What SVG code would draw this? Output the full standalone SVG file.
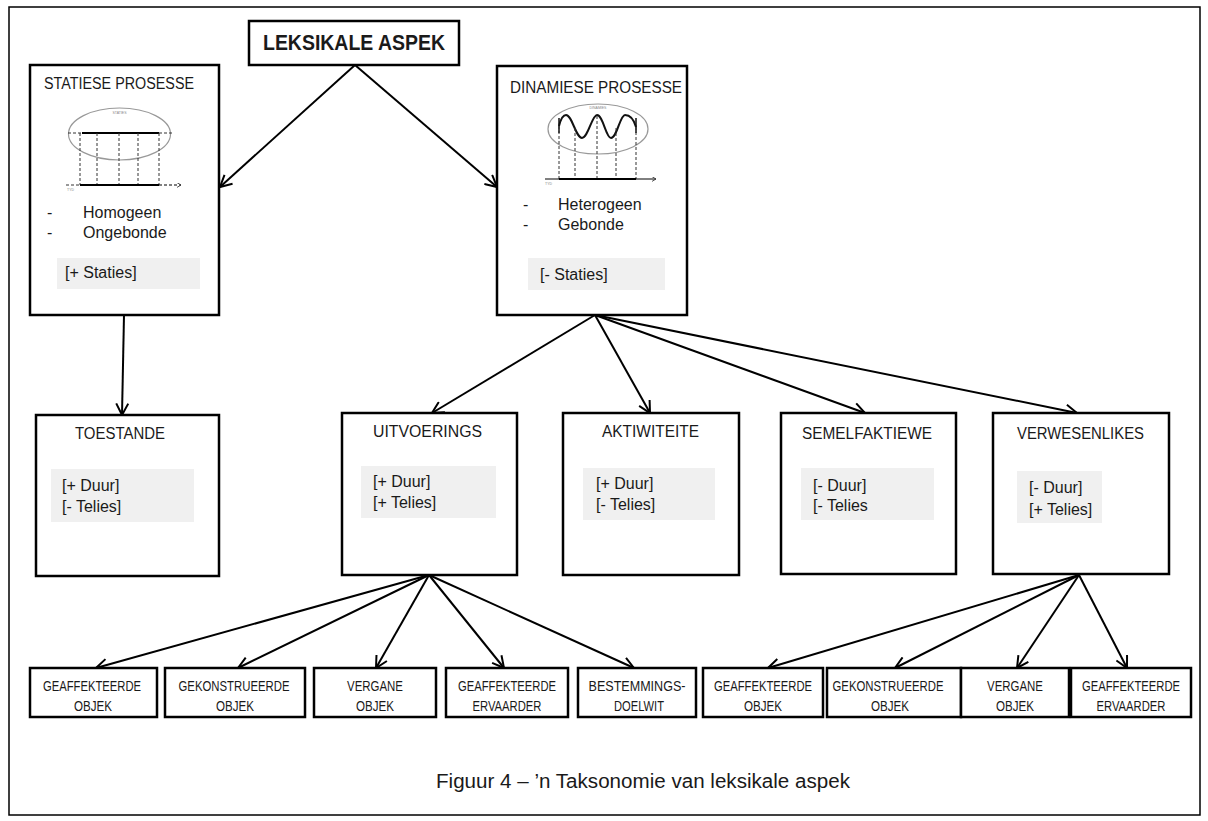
<svg xmlns="http://www.w3.org/2000/svg" width="1208" height="821" viewBox="0 0 1208 821">
<style>
.box{fill:#fff;stroke:#000;stroke-width:2.5}
.feat{fill:#f0f0f0;stroke:none}
.t{font-family:"Liberation Sans",Arial,sans-serif;fill:#1a1a1a}
.title{font-size:16px}
.body{font-size:16px}
.small{font-size:14px;text-anchor:middle}
.conn{stroke:#000;stroke-width:2;fill:none}
.thin{stroke:#000;stroke-width:1;fill:none}
.dash{stroke:#333;stroke-width:1;stroke-dasharray:3 2;fill:none}
.ell{fill:none;stroke:#999;stroke-width:1.2}
.tiny{font-family:"Liberation Sans",Arial,sans-serif;font-size:3.5px;fill:#888}
</style>
<defs>
<marker id="ah" viewBox="0 0 14 14" refX="12.5" refY="7" markerWidth="14" markerHeight="14" markerUnits="userSpaceOnUse" orient="auto">
<path d="M1,1 L12.5,7 L1,13" fill="none" stroke="#000" stroke-width="2"/>
</marker>
<marker id="sah" viewBox="0 0 6 6" refX="5" refY="3" markerWidth="5" markerHeight="5" markerUnits="userSpaceOnUse" orient="auto">
<path d="M0,0 L5,3 L0,6" fill="none" stroke="#333" stroke-width="1"/>
</marker>
</defs>
<rect x="9" y="7" width="1191" height="808" fill="#fff" stroke="#000" stroke-width="1.5"/>

<g id="connectors">
<line class="conn" x1="355" y1="65" x2="220" y2="187" marker-end="url(#ah)"/>
<line class="conn" x1="355" y1="65" x2="497" y2="187" marker-end="url(#ah)"/>
<line class="conn" x1="124" y1="315" x2="122" y2="415" marker-end="url(#ah)"/>
<line class="conn" x1="595" y1="315" x2="432" y2="413" marker-end="url(#ah)"/>
<line class="conn" x1="595" y1="315" x2="650" y2="413" marker-end="url(#ah)"/>
<line class="conn" x1="595" y1="315" x2="865" y2="413" marker-end="url(#ah)"/>
<line class="conn" x1="595" y1="315" x2="1077" y2="413" marker-end="url(#ah)"/>
<line class="conn" x1="429" y1="575" x2="96" y2="668" marker-end="url(#ah)"/>
<line class="conn" x1="429" y1="575" x2="238" y2="668" marker-end="url(#ah)"/>
<line class="conn" x1="429" y1="575" x2="376" y2="668" marker-end="url(#ah)"/>
<line class="conn" x1="429" y1="575" x2="504" y2="668" marker-end="url(#ah)"/>
<line class="conn" x1="429" y1="575" x2="634" y2="668" marker-end="url(#ah)"/>
<line class="conn" x1="1079" y1="575" x2="768" y2="668" marker-end="url(#ah)"/>
<line class="conn" x1="1079" y1="575" x2="895" y2="668" marker-end="url(#ah)"/>
<line class="conn" x1="1079" y1="575" x2="1017" y2="668" marker-end="url(#ah)"/>
<line class="conn" x1="1079" y1="575" x2="1127" y2="668" marker-end="url(#ah)"/>
</g>

<g id="leksikale-aspek">
<rect class="box" x="249" y="21" width="210" height="44"/>
<text class="t" x="263" y="50" font-size="22" font-weight="bold" textLength="182" lengthAdjust="spacingAndGlyphs">LEKSIKALE ASPEK</text>
</g>

<g id="statiese-prosesse">
<rect class="box" x="30" y="65" width="189" height="250"/>
<text class="t title" x="44" y="89" textLength="150" lengthAdjust="spacingAndGlyphs">STATIESE PROSESSE</text>
<ellipse class="ell" cx="119.5" cy="134" rx="51" ry="26"/>
<text class="tiny" x="119.5" y="114" text-anchor="middle">STATIES</text>
<line class="dash" x1="68" y1="133" x2="82" y2="133"/>
<line class="dash" x1="159" y1="133" x2="172" y2="133"/>
<line x1="82" y1="133" x2="159" y2="133" stroke="#000" stroke-width="2"/>
<line class="dash" x1="80" y1="133" x2="80" y2="185"/>
<line class="dash" x1="97" y1="133" x2="97" y2="185"/>
<line class="dash" x1="119" y1="133" x2="119" y2="185"/>
<line class="dash" x1="138" y1="133" x2="138" y2="185"/>
<line class="dash" x1="159" y1="133" x2="159" y2="185"/>
<line class="dash" x1="66" y1="185" x2="80" y2="185"/>
<line class="thin" x1="159" y1="185" x2="181" y2="185" stroke-dasharray="3 2" marker-end="url(#sah)"/>
<line x1="80" y1="185" x2="159" y2="185" stroke="#000" stroke-width="2"/>
<text class="tiny" x="67" y="191">TYD</text>
<text class="t body" x="47" y="218">-</text>
<text class="t body" x="83" y="218">Homogeen</text>
<text class="t body" x="47" y="238">-</text>
<text class="t body" x="83" y="238">Ongebonde</text>
<rect class="feat" x="57" y="258" width="143" height="31"/>
<text class="t body" x="65" y="278">[+ Staties]</text>
</g>

<g id="dinamiese-prosesse">
<rect class="box" x="497" y="66" width="190" height="249"/>
<text class="t title" x="510" y="93" textLength="172" lengthAdjust="spacingAndGlyphs">DINAMIESE PROSESSE</text>
<ellipse class="ell" cx="598" cy="129" rx="50" ry="25"/>
<text class="tiny" x="598" y="109" text-anchor="middle">DINAMIES</text>
<path d="M559,126 C561,118 563,115 566,115 C572,115 576,138 582,138 C588,138 592,115 597,115 C603,115 606,138 611,138 C617,138 620,115 625,115 C630,115 634,120 636,127" fill="none" stroke="#111" stroke-width="2"/>
<line x1="559" y1="118" x2="559" y2="133" stroke="#111" stroke-width="1.5"/>
<line x1="636" y1="118" x2="636" y2="133" stroke="#111" stroke-width="1.5"/>
<line class="dash" x1="559" y1="126" x2="559" y2="179"/>
<line class="dash" x1="575" y1="128" x2="575" y2="179"/>
<line class="dash" x1="597" y1="116" x2="597" y2="179"/>
<line class="dash" x1="616" y1="128" x2="616" y2="179"/>
<line class="dash" x1="636" y1="127" x2="636" y2="179"/>
<line class="thin" x1="545" y1="179" x2="656" y2="179" marker-end="url(#sah)"/>
<line x1="559" y1="179" x2="636" y2="179" stroke="#000" stroke-width="2"/>
<text class="tiny" x="545" y="185">TYD</text>
<text class="t body" x="523" y="210">-</text>
<text class="t body" x="558" y="210">Heterogeen</text>
<text class="t body" x="523" y="230">-</text>
<text class="t body" x="558" y="230">Gebonde</text>
<rect class="feat" x="528" y="258" width="137" height="32"/>
<text class="t body" x="540" y="280">[- Staties]</text>
</g>

<g id="toestande">
<rect class="box" x="36" y="415" width="183" height="161"/>
<text class="t title" x="75" y="439" textLength="90" lengthAdjust="spacingAndGlyphs">TOESTANDE</text>
<rect class="feat" x="51" y="469" width="143" height="53"/>
<text class="t body" x="62" y="491">[+ Duur]</text>
<text class="t body" x="62" y="512">[- Telies]</text>
</g>

<g id="uitvoerings">
<rect class="box" x="342" y="413" width="175" height="162"/>
<text class="t title" x="373" y="437" textLength="109" lengthAdjust="spacingAndGlyphs">UITVOERINGS</text>
<rect class="feat" x="361" y="466" width="135" height="52"/>
<text class="t body" x="373" y="487">[+ Duur]</text>
<text class="t body" x="373" y="508">[+ Telies]</text>
</g>

<g id="aktiwiteite">
<rect class="box" x="563" y="413" width="176" height="162"/>
<text class="t title" x="602" y="437" textLength="97" lengthAdjust="spacingAndGlyphs">AKTIWITEITE</text>
<rect class="feat" x="583" y="468" width="132" height="52"/>
<text class="t body" x="596" y="489">[+ Duur]</text>
<text class="t body" x="596" y="510">[- Telies]</text>
</g>

<g id="semelfaktiewe">
<rect class="box" x="781" y="413" width="175" height="161"/>
<text class="t title" x="802" y="439" textLength="130" lengthAdjust="spacingAndGlyphs">SEMELFAKTIEWE</text>
<rect class="feat" x="801" y="468" width="133" height="52"/>
<text class="t body" x="813" y="491">[- Duur]</text>
<text class="t body" x="813" y="511">[- Telies</text>
</g>

<g id="verwesenlikes">
<rect class="box" x="993" y="413" width="176" height="161"/>
<text class="t title" x="1017" y="439" textLength="127" lengthAdjust="spacingAndGlyphs">VERWESENLIKES</text>
<rect class="feat" x="1017" y="471" width="85" height="52"/>
<text class="t body" x="1029" y="493">[- Duur]</text>
<text class="t body" x="1029" y="515">[+ Telies]</text>
</g>

<g id="b1-geaffekteerde-objek">
<rect class="box" x="30" y="668" width="127" height="49"/>
<text class="t small" x="92" y="691" textLength="98" lengthAdjust="spacingAndGlyphs">GEAFFEKTEERDE</text>
<text class="t small" x="93" y="711" textLength="38" lengthAdjust="spacingAndGlyphs">OBJEK</text>
</g>
<g id="b2-gekonstrueerde-objek">
<rect class="box" x="165" y="668" width="140" height="49"/>
<text class="t small" x="234" y="691" textLength="111" lengthAdjust="spacingAndGlyphs">GEKONSTRUEERDE</text>
<text class="t small" x="235" y="711" textLength="38" lengthAdjust="spacingAndGlyphs">OBJEK</text>
</g>
<g id="b3-vergane-objek">
<rect class="box" x="314" y="668" width="122" height="49"/>
<text class="t small" x="375" y="691" textLength="56" lengthAdjust="spacingAndGlyphs">VERGANE</text>
<text class="t small" x="375" y="711" textLength="38" lengthAdjust="spacingAndGlyphs">OBJEK</text>
</g>
<g id="b4-geaffekteerde-ervaarder">
<rect class="box" x="446" y="668" width="122" height="49"/>
<text class="t small" x="507" y="691" textLength="98" lengthAdjust="spacingAndGlyphs">GEAFFEKTEERDE</text>
<text class="t small" x="507" y="711" textLength="69" lengthAdjust="spacingAndGlyphs">ERVAARDER</text>
</g>
<g id="b5-bestemmingsdoelwit">
<rect class="box" x="578" y="668" width="118" height="49"/>
<text class="t small" x="637" y="691" textLength="97" lengthAdjust="spacingAndGlyphs">BESTEMMINGS-</text>
<text class="t small" x="639" y="711" textLength="50" lengthAdjust="spacingAndGlyphs">DOELWIT</text>
</g>
<g id="b6-geaffekteerde-objek">
<rect class="box" x="703" y="668" width="120" height="49"/>
<text class="t small" x="763" y="691" textLength="98" lengthAdjust="spacingAndGlyphs">GEAFFEKTEERDE</text>
<text class="t small" x="763" y="711" textLength="38" lengthAdjust="spacingAndGlyphs">OBJEK</text>
</g>
<g id="b7-gekonstrueerde-objek">
<rect class="box" x="827" y="668" width="134" height="49"/>
<text class="t small" x="888" y="691" textLength="111" lengthAdjust="spacingAndGlyphs">GEKONSTRUEERDE</text>
<text class="t small" x="890" y="711" textLength="38" lengthAdjust="spacingAndGlyphs">OBJEK</text>
</g>
<g id="b8-vergane-objek">
<rect class="box" x="961" y="668" width="108" height="49"/>
<text class="t small" x="1015" y="691" textLength="56" lengthAdjust="spacingAndGlyphs">VERGANE</text>
<text class="t small" x="1015" y="711" textLength="38" lengthAdjust="spacingAndGlyphs">OBJEK</text>
</g>
<g id="b9-geaffekteerde-ervaarder">
<rect class="box" x="1071" y="668" width="120" height="49"/>
<text class="t small" x="1131" y="691" textLength="98" lengthAdjust="spacingAndGlyphs">GEAFFEKTEERDE</text>
<text class="t small" x="1131" y="711" textLength="69" lengthAdjust="spacingAndGlyphs">ERVAARDER</text>
</g>

<text class="t" x="643" y="788" font-size="20" text-anchor="middle" textLength="414" lengthAdjust="spacingAndGlyphs">Figuur 4 – ’n Taksonomie van leksikale aspek</text>
</svg>
